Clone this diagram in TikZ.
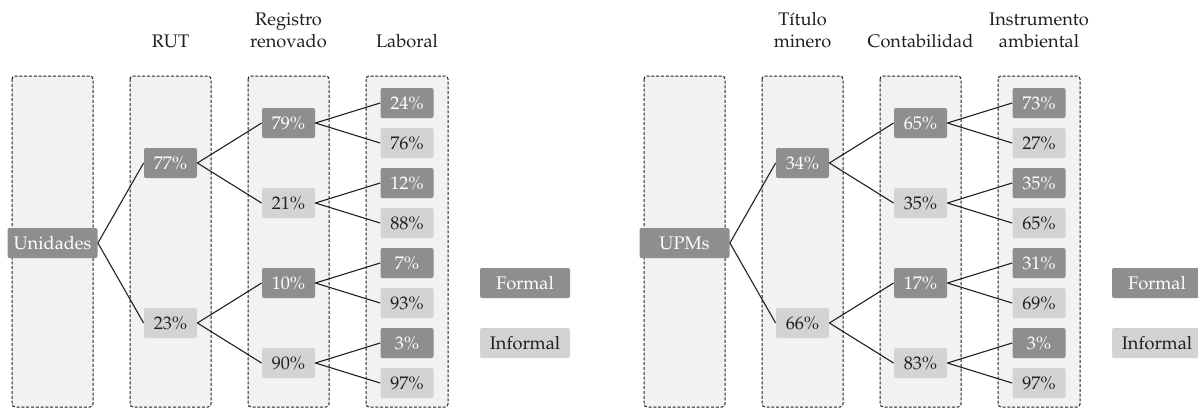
\documentclass[tikz,border=0pt]{standalone}
\usepackage[T1]{fontenc}
\usepackage{mathpazo}

\definecolor{formalc}{RGB}{142,142,144}
\definecolor{informalc}{RGB}{210,211,212}
\definecolor{colfill}{RGB}{241,242,243}
\definecolor{textc}{RGB}{35,31,32}

\newcommand\fs{\fontsize{9.1}{11}\selectfont}

\begin{document}
\begin{tikzpicture}[x=0.5pt,y=-0.5pt,
  column/.style={draw=textc, dash pattern=on 1.5pt off 0.9pt, line width=0.5pt,
                 fill=colfill, rounded corners=1.5pt},
  box/.style={rounded corners=1pt, minimum width=26.5pt, minimum height=15pt,
              inner sep=0pt, font=\fs},
  formal/.style={box, fill=formalc, text=white},
  informal/.style={box, fill=informalc, text=textc},
  wide/.style={minimum width=45pt},
  link/.style={draw=textc, line width=0.55pt},
  head/.style={align=center, font=\fs, text=textc, inner sep=0pt,
               text depth=0pt, anchor=south}]

\useasboundingbox (0,0) rectangle (1198,409);

% ---------- Left tree: Unidades ----------
\foreach \a/\b in {12/93, 130/211, 248/329, 366/448}
  \draw[column] (\a,76) rectangle (\b,407);

\node[head] (LhRUT) at (170.5,48) {RUT};
\node[head] (LhReg) at (288.5,48) {Registro\\renovado};
\node[head] (LhLab) at (407,48) {Laboral};

\node[formal, wide] (L1) at (52.5,243) {Unidades};

\node[formal]   (L2a) at (170.5,163) {77\%};
\node[informal] (L2b) at (170.5,323) {23\%};

\node[formal]   (L3a) at (288.5,123) {79\%};
\node[informal] (L3b) at (288.5,203) {21\%};
\node[formal]   (L3c) at (288.5,283) {10\%};
\node[informal] (L3d) at (288.5,363) {90\%};

\node[formal]   (L4a) at (407,103) {24\%};
\node[informal] (L4b) at (407,143) {76\%};
\node[formal]   (L4c) at (407,183) {12\%};
\node[informal] (L4d) at (407,223) {88\%};
\node[formal]   (L4e) at (407,263) {7\%};
\node[informal] (L4f) at (407,303) {93\%};
\node[formal]   (L4g) at (407,343) {3\%};
\node[informal] (L4h) at (407,383) {97\%};

\node[formal, wide]   (LkF) at (525,283) {Formal};
\node[informal, wide] (LkI) at (525,343) {Informal};

\foreach \p/\c in {L1/L2a, L1/L2b, L2a/L3a, L2a/L3b, L2b/L3c, L2b/L3d,
                   L3a/L4a, L3a/L4b, L3b/L4c, L3b/L4d,
                   L3c/L4e, L3c/L4f, L3d/L4g, L3d/L4h}
  \draw[link] (\p.east) -- (\c.west);

% ---------- Right tree: UPMs ----------
\foreach \a/\b in {644/725, 762/843, 880/961, 998/1080}
  \draw[column] (\a,76) rectangle (\b,407);

\node[head] (RhTit) at (802.5,48) {Título\\minero};
\node[head] (RhCon) at (920.5,48) {Contabilidad};
\node[head] (RhIns) at (1039,48) {Instrumento\\ambiental};

\node[formal, wide] (R1) at (684.5,243) {UPMs};

\node[formal]   (R2a) at (802.5,163) {34\%};
\node[informal] (R2b) at (802.5,323) {66\%};

\node[formal]   (R3a) at (920.5,123) {65\%};
\node[informal] (R3b) at (920.5,203) {35\%};
\node[formal]   (R3c) at (920.5,283) {17\%};
\node[informal] (R3d) at (920.5,363) {83\%};

\node[formal]   (R4a) at (1039,103) {73\%};
\node[informal] (R4b) at (1039,143) {27\%};
\node[formal]   (R4c) at (1039,183) {35\%};
\node[informal] (R4d) at (1039,223) {65\%};
\node[formal]   (R4e) at (1039,263) {31\%};
\node[informal] (R4f) at (1039,303) {69\%};
\node[formal]   (R4g) at (1039,343) {3\%};
\node[informal] (R4h) at (1039,383) {97\%};

\node[formal, wide]   (RkF) at (1157,283) {Formal};
\node[informal, wide] (RkI) at (1157,343) {Informal};

\foreach \p/\c in {R1/R2a, R1/R2b, R2a/R3a, R2a/R3b, R2b/R3c, R2b/R3d,
                   R3a/R4a, R3a/R4b, R3b/R4c, R3b/R4d,
                   R3c/R4e, R3c/R4f, R3d/R4g, R3d/R4h}
  \draw[link] (\p.east) -- (\c.west);

\end{tikzpicture}
\end{document}
